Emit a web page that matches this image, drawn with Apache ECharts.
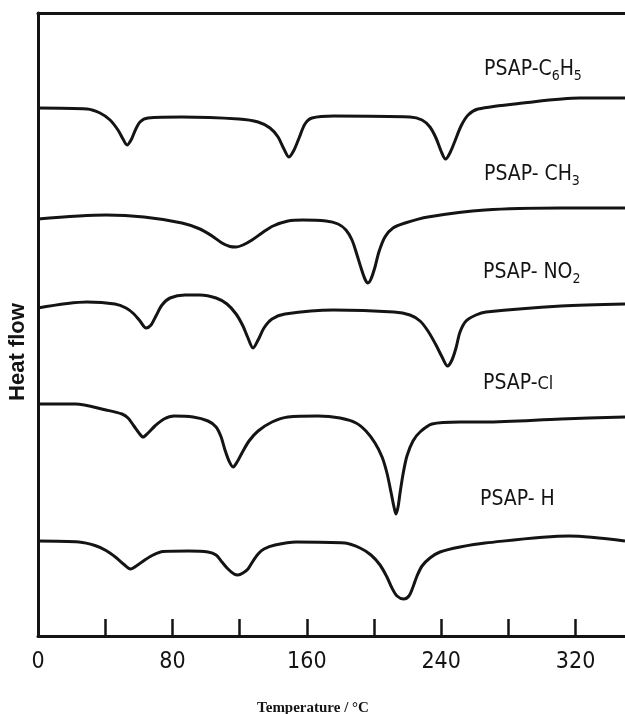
<!DOCTYPE html>
<html>
<head>
<meta charset="utf-8">
<script src="https://cdn.jsdelivr.net/npm/echarts@6/dist/echarts.min.js"></script>
<style>
html,body{margin:0;padding:0;background:#fff;}
#chart{width:625px;height:714px;}
</style>
</head>
<body>
<div id="chart"></div>
<script>
// Temperature (°C) vs heat flow (arbitrary units, stacked traces)
var traceC6H5 = [[0,52.8],[29.2,52.7],[36.9,52.3],[42.9,51.6],[47.6,50.6],[50.6,49.7],[53.0,49.1],[55.4,49.6],[57.7,50.5],[60.7,51.4],[65.5,51.8],[85.7,51.9],[119.6,51.7],[131.0,51.4],[138.1,50.8],[142.9,49.9],[146.4,48.7],[149.4,47.9],[152.4,48.6],[155.4,49.8],[158.9,51.2],[163.1,51.8],[176.2,52.0],[221.4,51.9],[228.6,51.6],[233.3,50.9],[236.9,49.8],[239.9,48.5],[242.6,47.7],[245.2,48.3],[248.2,49.5],[251.8,51.0],[256.0,52.1],[261.9,52.7],[288.7,53.3],[322.6,53.8],[349.4,53.8]];
var traceCH3 = [[0,41.7],[40.5,42.1],[63.1,41.9],[85.7,41.3],[96.4,40.7],[103.6,40.0],[109.5,39.3],[114.3,38.95],[117.9,38.9],[122.0,39.1],[127.4,39.6],[133.3,40.3],[139.9,41.0],[148.8,41.5],[157.7,41.6],[171.4,41.5],[178.6,41.2],[183.3,40.6],[186.9,39.6],[189.9,38.1],[192.3,36.8],[194.6,35.7],[196.4,35.3],[198.2,35.7],[200.6,36.9],[202.9,38.4],[206.5,39.9],[211.3,40.8],[218.5,41.3],[232.1,41.9],[266.1,42.6],[311.3,42.8],[349.4,42.8]];
var traceNO2 = [[0,32.8],[29.2,33.4],[45.8,33.2],[52.4,32.8],[57.1,32.2],[60.7,31.5],[64.3,30.8],[67.3,31.1],[70.2,32.0],[73.8,33.1],[78.6,33.8],[87.5,34.1],[96.4,34.1],[106.0,33.8],[112.5,33.2],[117.9,32.2],[122.0,31.0],[125.0,29.8],[128.0,28.8],[131.0,29.6],[134.5,30.8],[139.3,31.7],[147.0,32.2],[176.0,32.6],[211.9,32.4],[221.4,32.1],[227.4,31.5],[232.1,30.5],[236.9,29.1],[240.5,27.9],[243.8,27.0],[246.4,27.6],[248.8,28.8],[251.2,30.4],[254.8,31.5],[260.7,32.1],[266.7,32.4],[311.3,33.0],[349.4,33.2]];
var traceCl = [[0,23.2],[22.3,23.2],[40.5,22.6],[50.0,22.2],[53.6,21.8],[57.1,21.0],[60.1,20.3],[62.5,19.9],[65.5,20.3],[69.6,21.0],[75.0,21.7],[81.0,22.0],[92.3,21.9],[101.2,21.5],[106.0,20.9],[109.0,19.9],[111.3,18.6],[113.7,17.5],[116.1,16.9],[118.5,17.4],[121.4,18.3],[125.6,19.5],[131.0,20.5],[139.3,21.4],[148.8,21.9],[166.7,22.0],[179.8,21.8],[189.3,21.3],[195.2,20.5],[200.6,19.3],[204.8,17.9],[207.7,16.3],[210.1,14.4],[211.9,12.9],[213.1,12.2],[214.3,12.9],[215.5,14.3],[217.3,16.2],[219.6,18.0],[223.2,19.5],[227.4,20.4],[234.5,21.2],[251.2,21.4],[266.1,21.4],[311.3,21.7],[349.4,21.9]];
var traceH = [[0,9.5],[24.4,9.4],[33.9,9.05],[40.5,8.55],[46.4,7.85],[51.2,7.15],[55.1,6.7],[58.9,7.05],[63.1,7.55],[68.5,8.1],[74.4,8.45],[89.9,8.5],[101.2,8.4],[106.0,8.1],[109.5,7.4],[113.1,6.7],[116.7,6.2],[119.0,6.1],[122.0,6.3],[125.0,6.7],[128.0,7.5],[131.0,8.2],[134.5,8.7],[141.1,9.1],[153.6,9.4],[182.7,9.3],[191.7,8.8],[198.2,8.1],[203.6,7.1],[207.7,5.9],[210.7,4.8],[213.7,4.0],[217.7,3.7],[220.8,4.0],[223.2,4.9],[225.6,6.0],[228.6,7.0],[233.3,7.8],[239.3,8.4],[251.2,8.9],[266.1,9.3],[316.1,10.0],[349.4,9.5]];
var xTickValues = [40, 80, 120, 160, 200, 240, 280, 320];
var xTickLabels = [0, 80, 160, 240, 320];
var seriesNames = ['PSAP-C6H5','PSAP-CH3','PSAP-NO2','PSAP-Cl','PSAP-H'];

var ink = '#141414';
var narrow = '"Liberation Sans Narrow","DejaVu Sans Condensed","Liberation Sans",sans-serif';
var allTraces = [traceC6H5, traceCH3, traceNO2, traceCl, traceH];

var chart = echarts.init(document.getElementById('chart'), null, {renderer:'canvas'});

function lbl(rich, x, y) {
  return {
    type:'text', x:x, y:y, z:10,
    style:{
      text: rich, fill: ink, textVerticalAlign:'middle',
      rich:{
        a:{fontFamily:narrow, fontSize:21, fill:ink, color:ink},
        c:{fontFamily:narrow, fontSize:18, fill:ink, color:ink},
        s:{fontFamily:narrow, fontSize:14, fill:ink, color:ink, padding:[12,0,0,0]}
      }
    }
  };
}

chart.setOption({
  backgroundColor:'#fff',
  animation:false,
  grid:{left:38, right:0, top:13, bottom:78, containLabel:false},
  xAxis:[{
    type:'value', min:0, max:349.4,
    axisLine:{show:true, lineStyle:{color:ink, width:3}},
    axisTick:{show:true, inside:true, length:17, customValues:xTickValues, lineStyle:{color:ink, width:2.5}},
    splitLine:{show:false},
    axisLabel:{
      margin:15, color:ink, fontSize:23, fontFamily:narrow, customValues:xTickLabels,
      formatter:function(v){ return String(Math.round(v)); }
    }
  },{
    type:'value', min:0, max:349.4, position:'top',
    axisLine:{show:true, lineStyle:{color:ink, width:3}},
    axisTick:{show:false}, axisLabel:{show:false}, splitLine:{show:false}
  }],
  yAxis:{
    type:'value', min:0, max:62.3,
    axisLine:{show:true, lineStyle:{color:ink, width:3}},
    axisTick:{show:false}, axisLabel:{show:false}, splitLine:{show:false}
  },
  series: allTraces.map(function(d, i){
    return {
      type:'line', name:seriesNames[i], data:d, smooth:0.3, symbol:'none',
      lineStyle:{color:ink, width:3}, xAxisIndex:0
    };
  }),
  graphic:[
    lbl('{a|PSAP-C}{s|6}{a|H}{s|5}', 484, 70),
    lbl('{a|PSAP- CH}{s|3}', 484, 175),
    lbl('{a|PSAP- NO}{s|2}', 483, 273),
    lbl('{a|PSAP-}{c|Cl}', 483, 384),
    lbl('{a|PSAP- H}', 480, 500),
    {type:'text', x:18, y:352, rotation:Math.PI/2, z:10,
     style:{text:'Heat flow', fill:ink, font:'bold 22px "Liberation Sans",Arial,sans-serif', textAlign:'center', textVerticalAlign:'middle'}},
    {type:'text', x:313, y:708, z:10,
     style:{text:'Temperature / °C', fill:ink, font:'bold 15px "Liberation Serif","Times New Roman",serif', textAlign:'center', textVerticalAlign:'middle'}}
  ]
});
</script>
</body>
</html>
